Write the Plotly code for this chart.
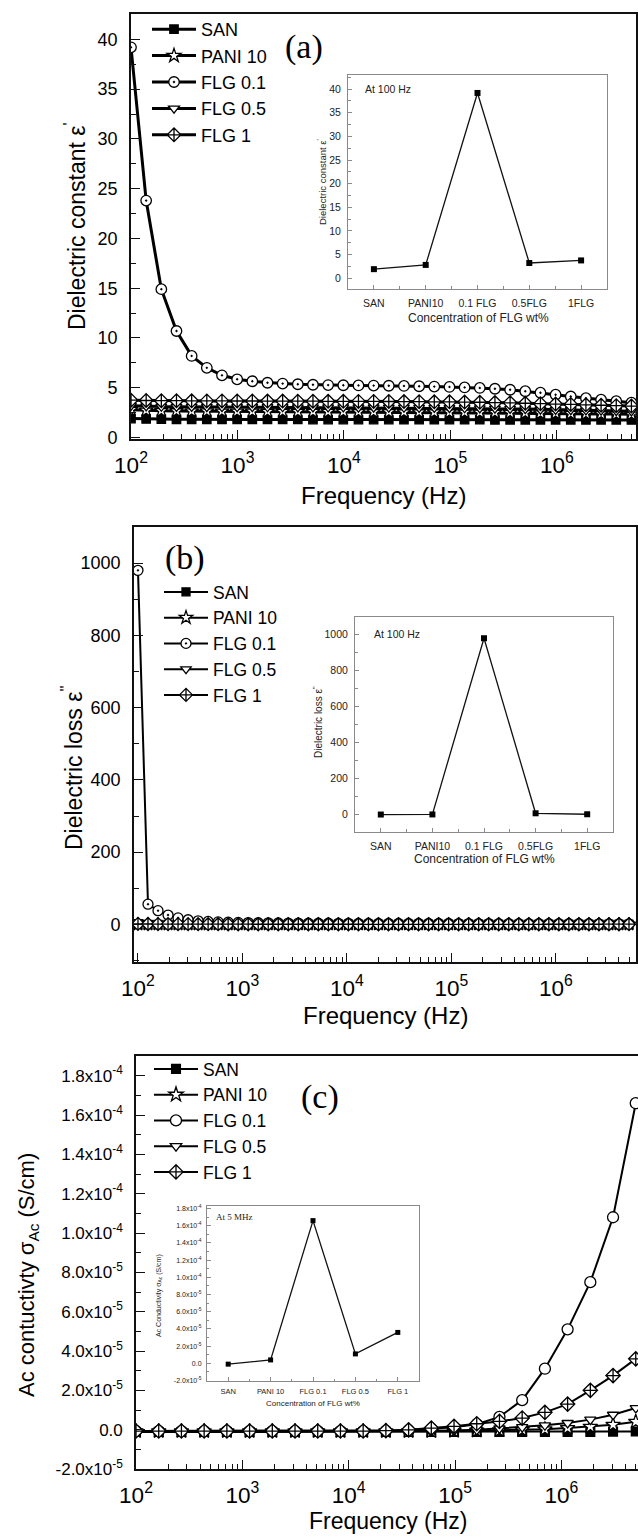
import numpy as np
import plotly.graph_objects as go

W, H = 638, 1539
SANS = "Arial, Liberation Sans, sans-serif"
SERIF = "Times New Roman, Liberation Serif, serif"

SERIES = ["SAN", "PANI 10", "FLG 0.1", "FLG 0.5", "FLG 1"]

# frequency sweep of every measurement: log-spaced from 100 Hz to 5 MHz
F_MIN, F_MAX = 100.0, 5.0e6

# ---- (a) dielectric constant eps'
eps_san = [1.90, 1.86, 1.84, 1.83, 1.83, 1.82, 1.82, 1.82, 1.81, 1.81, 1.81, 1.81,
           1.80, 1.80, 1.80, 1.80, 1.80, 1.80, 1.79, 1.79, 1.79, 1.79, 1.79, 1.79,
           1.78, 1.78, 1.78, 1.78, 1.78, 1.77, 1.77, 1.77, 1.77, 1.76]
eps_pani = [2.80, 2.72, 2.68, 2.66, 2.65, 2.64, 2.63, 2.62, 2.62, 2.61, 2.61, 2.60,
            2.60, 2.59, 2.59, 2.58, 2.58, 2.57, 2.56, 2.56, 2.55, 2.54, 2.53, 2.52,
            2.51, 2.49, 2.47, 2.45, 2.43, 2.41, 2.39, 2.37, 2.35, 2.33]
eps_flg01 = [39.2, 23.8, 14.9, 10.7, 8.2, 7.0, 6.25, 5.85, 5.65, 5.50, 5.42, 5.35,
             5.30, 5.27, 5.25, 5.23, 5.22, 5.20, 5.18, 5.15, 5.12, 5.08, 5.03, 4.98,
             4.90, 4.80, 4.65, 4.50, 4.30, 4.12, 3.95, 3.80, 3.65, 3.50]
eps_flg05 = [3.20, 3.14, 3.11, 3.10, 3.09, 3.08, 3.08, 3.07, 3.07, 3.06, 3.06, 3.05,
             3.05, 3.04, 3.04, 3.03, 3.03, 3.02, 3.01, 3.00, 2.99, 2.98, 2.96, 2.94,
             2.92, 2.89, 2.86, 2.83, 2.80, 2.77, 2.74, 2.71, 2.68, 2.65]
eps_flg1 = [3.75, 3.72, 3.70, 3.70, 3.69, 3.68, 3.68, 3.67, 3.67, 3.66, 3.66, 3.65,
            3.65, 3.64, 3.64, 3.63, 3.63, 3.62, 3.61, 3.60, 3.59, 3.58, 3.56, 3.54,
            3.51, 3.48, 3.44, 3.40, 3.36, 3.32, 3.28, 3.24, 3.20, 3.16]

# ---- (b) dielectric loss eps''
loss_san = [0.10, 0.09, 0.08, 0.08, 0.07, 0.07, 0.06, 0.06, 0.06, 0.05, 0.05, 0.05,
            0.05, 0.04, 0.04, 0.04, 0.04, 0.04, 0.04, 0.03, 0.03, 0.03, 0.03, 0.03,
            0.03, 0.03, 0.03, 0.03, 0.03, 0.03, 0.03, 0.03, 0.03, 0.03, 0.03, 0.03,
            0.03, 0.03, 0.03, 0.03, 0.03, 0.04, 0.04, 0.04, 0.04, 0.05, 0.05, 0.05,
            0.06, 0.06]
loss_pani = [0.60, 0.45, 0.38, 0.34, 0.31, 0.29, 0.27, 0.26, 0.25, 0.24, 0.23, 0.22,
             0.22, 0.21, 0.21, 0.20, 0.20, 0.19, 0.19, 0.19, 0.18, 0.18, 0.18, 0.18,
             0.17, 0.17, 0.17, 0.17, 0.17, 0.17, 0.17, 0.17, 0.17, 0.17, 0.18, 0.18,
             0.18, 0.18, 0.19, 0.19, 0.20, 0.20, 0.21, 0.22, 0.23, 0.24, 0.25, 0.26,
             0.28, 0.30]
loss_flg01 = [980.0, 56.0, 38.0, 26.0, 18.0, 13.0, 10.0, 8.2, 7.0, 6.1, 5.5, 5.0,
              4.6, 4.3, 4.0, 3.8, 3.6, 3.4, 3.3, 3.2, 3.1, 3.0, 2.9, 2.9,
              2.8, 2.8, 2.7, 2.7, 2.6, 2.6, 2.5, 2.5, 2.4, 2.4, 2.3, 2.3,
              2.2, 2.2, 2.1, 2.1, 2.0, 2.0, 1.9, 1.9, 1.8, 1.8, 1.7, 1.7,
              1.6, 1.6]
loss_flg05 = [7.0, 4.1, 2.9, 2.2, 1.8, 1.5, 1.3, 1.2, 1.1, 1.0, 0.95, 0.90,
              0.85, 0.80, 0.78, 0.75, 0.72, 0.70, 0.68, 0.66, 0.64, 0.62, 0.60, 0.59,
              0.58, 0.57, 0.56, 0.55, 0.54, 0.53, 0.52, 0.52, 0.51, 0.51, 0.50, 0.50,
              0.50, 0.50, 0.50, 0.50, 0.50, 0.51, 0.51, 0.52, 0.53, 0.54, 0.55, 0.56,
              0.58, 0.60]
loss_flg1 = [1.60, 1.20, 1.00, 0.90, 0.80, 0.75, 0.70, 0.66, 0.63, 0.60, 0.58, 0.56,
             0.54, 0.52, 0.50, 0.49, 0.48, 0.47, 0.46, 0.45, 0.44, 0.43, 0.42, 0.41,
             0.40, 0.40, 0.39, 0.39, 0.38, 0.38, 0.37, 0.37, 0.37, 0.37, 0.37, 0.37,
             0.38, 0.38, 0.39, 0.40, 0.41, 0.42, 0.44, 0.46, 0.48, 0.50, 0.53, 0.56,
             0.60, 0.65]

# ---- (c) ac conductivity (S/cm)
sig_san = [-1.2e-6, -1.2e-6, -1.2e-6, -1.2e-6, -1.2e-6, -1.2e-6, -1.2e-6, -1.2e-6,
           -1.2e-6, -1.2e-6, -1.2e-6, -1.2e-6, -1.2e-6, -1.2e-6, -1.2e-6, -1.2e-6,
           -1.2e-6, -1.2e-6, -1.2e-6, -1.1e-6, -1.1e-6, -1.0e-6, -0.9e-6]
sig_pani = [-8e-7, -8e-7, -8e-7, -8e-7, -8e-7, -8e-7, -8e-7, -8e-7,
            -8e-7, -8e-7, -8e-7, -8e-7, -8e-7, -8e-7, -7e-7, -5e-7,
            -3e-7, -1e-7, 2e-7, 8e-7, 1.5e-6, 2.5e-6, 4.0e-6]
sig_flg01 = [-7e-7, -7e-7, -7e-7, -7e-7, -7e-7, -7e-7, -7e-7, -7e-7,
             -7e-7, -7e-7, -7e-7, -6e-7, -3e-7, 4e-7, 1.2e-6, 2.8e-6,
             6.5e-6, 1.5e-5, 3.1e-5, 5.1e-5, 7.5e-5, 1.08e-4, 1.66e-4]
sig_flg05 = [-7e-7, -7e-7, -7e-7, -7e-7, -7e-7, -7e-7, -7e-7, -7e-7,
             -7e-7, -7e-7, -7e-7, -7e-7, -7e-7, -6e-7, -4e-7, -1e-7,
             6e-7, 1.3e-6, 2.2e-6, 3.4e-6, 5.1e-6, 7.6e-6, 1.1e-5]
sig_flg1 = [-7e-7, -7e-7, -7e-7, -7e-7, -7e-7, -7e-7, -7e-7, -7e-7,
            -7e-7, -7e-7, -7e-7, -5e-7, -1e-7, 8e-7, 1.7e-6, 3.0e-6,
            4.2e-6, 5.9e-6, 8.8e-6, 1.3e-5, 2.0e-5, 2.75e-5, 3.6e-5]

EPS = [eps_san, eps_pani, eps_flg01, eps_flg05, eps_flg1]
LOSS = [loss_san, loss_pani, loss_flg01, loss_flg05, loss_flg1]
SIG = [sig_san, sig_pani, sig_flg01, sig_flg05, sig_flg1]

# inset category labels
cat_a = ["SAN", "PANI10", "0.1 FLG", "0.5FLG", "1FLG"]
cat_b = ["SAN", "PANI10", "0.1 FLG", "0.5FLG", "1FLG"]
cat_c = ["SAN", "PANI 10", "FLG 0.1", "FLG 0.5", "FLG 1"]

# inset values: eps' and eps'' at 100 Hz, conductivity at 5 MHz
inset_a = [s[0] for s in EPS]
inset_b = [s[0] for s in LOSS]
inset_c = [s[-1] for s in SIG]

sig_ticks = [-2e-5, 0.0, 2e-5, 4e-5, 6e-5, 8e-5, 1e-4, 1.2e-4, 1.4e-4, 1.6e-4, 1.8e-4]
sig_ticktext = ["-2.0x10<sup>-5</sup>", "0.0", "2.0x10<sup>-5</sup>", "4.0x10<sup>-5</sup>",
                "6.0x10<sup>-5</sup>", "8.0x10<sup>-5</sup>", "1.0x10<sup>-4</sup>",
                "1.2x10<sup>-4</sup>", "1.4x10<sup>-4</sup>", "1.6x10<sup>-4</sup>",
                "1.8x10<sup>-4</sup>"]

SYMBOLS = {
    "SAN": "square",
    "PANI 10": "star",
    "FLG 0.1": "circle-dot",
    "FLG 0.5": "triangle-down",
    "FLG 1": "diamond-cross",
}
SIZES = {"SAN": 8, "PANI 10": 10, "FLG 0.1": 10, "FLG 0.5": 9, "FLG 1": 10}


def px_x(l, r):
    return [l / W, r / W]


def px_y(t, b):
    return [1 - b / H, 1 - t / H]


def ann(text, x, y, size, family=SANS, angle=0, color="black", xanchor="center"):
    return dict(text=text, x=x / W, y=1 - y / H, xref="paper", yref="paper",
                showarrow=False, font=dict(family=family, size=size, color=color),
                textangle=angle, xanchor=xanchor, yanchor="middle")


fig = go.Figure()


def add_panel(values, xaxis, yaxis, legend, lw, msize_scale, circle_symbol):
    for name, ys in zip(SERIES, values):
        freqs = np.geomspace(F_MIN, F_MAX, len(ys))
        sym = SYMBOLS[name] if name != "FLG 0.1" else circle_symbol
        fig.add_trace(go.Scatter(
            x=freqs, y=ys, name=name, mode="lines+markers",
            xaxis=xaxis, yaxis=yaxis, legend=legend,
            line=dict(color="black", width=lw),
            marker=dict(symbol=sym, size=SIZES[name] * msize_scale,
                        color="black" if name == "SAN" else "white",
                        line=dict(color="black", width=1.3)),
        ))


add_panel(EPS, "x", "y", "legend", 3.0, 1.05, "circle-dot")
add_panel(LOSS, "x2", "y2", "legend2", 2.0, 1.0, "circle-dot")
add_panel(SIG, "x3", "y3", "legend3", 2.0, 1.1, "circle")

# insets
for cats, vals, xa, ya in [(cat_a, inset_a, "x4", "y4"),
                           (cat_b, inset_b, "x5", "y5"),
                           (cat_c, inset_c, "x6", "y6")]:
    fig.add_trace(go.Scatter(
        x=list(range(len(cats))), y=vals, mode="lines+markers", showlegend=False,
        xaxis=xa, yaxis=ya, line=dict(color="#111", width=1.3),
        marker=dict(symbol="square", size=6 if xa != "x6" else 5, color="black"),
    ))

main_line = dict(showline=True, linecolor="#111", linewidth=1.6, mirror=True,
                 ticks="inside", tickcolor="#111", tickwidth=1.4, ticklen=9,
                 showgrid=False, zeroline=False, automargin=False)
log_x = dict(type="log", dtick=1, exponentformat="power",
             tickfont=dict(family=SANS, size=18, color="black"),
             minor=dict(ticks="inside", ticklen=5, tickwidth=1.2, tickcolor="#111",
                        dtick="D1", showgrid=False),
             ticklabelstandoff=6, **main_line)

inset_line = dict(showline=True, linecolor="#8a8a8a", linewidth=1.1, mirror=True,
                  ticks="inside", tickcolor="#8a8a8a", tickwidth=1, ticklen=4,
                  showgrid=False, zeroline=False, automargin=False)

A = (131, 14, 636, 439)
B = (134, 527, 636, 962)
C = (136, 1056, 638, 1469)
IA = (348, 75, 607, 289)
IB = (355, 617, 613, 832)
IC = (207, 1206, 419, 1381)

legend_common = dict(xanchor="left", yanchor="top", bgcolor="rgba(0,0,0,0)",
                     itemwidth=44, tracegroupgap=0)

fig.update_layout(
    width=W, height=H, margin=dict(l=0, r=0, t=0, b=0, pad=0, autoexpand=False),
    paper_bgcolor="white", plot_bgcolor="white",
    font=dict(family=SANS, color="black"),
    xaxis=dict(domain=px_x(A[0], A[2]), range=[2, 6.742], anchor="y", **log_x),
    yaxis=dict(domain=px_y(A[1], A[3]), range=[-0.15, 42.55], anchor="x",
               dtick=5, tick0=0, tickfont=dict(family=SANS, size=18, color="black"),
               minor=dict(ticks="inside", ticklen=5, tickwidth=1.2, tickcolor="#111",
                          dtick=2.5, tick0=0, showgrid=False),
               ticklabelstandoff=8, **main_line),
    xaxis2=dict(domain=px_x(B[0], B[2]), range=[1.962, 6.766], anchor="y2", **log_x),
    yaxis2=dict(domain=px_y(B[1], B[3]), range=[-104, 1100], anchor="x2",
                dtick=200, tick0=0, tickfont=dict(family=SANS, size=18, color="black"),
                minor=dict(ticks="inside", ticklen=5, tickwidth=1.2, tickcolor="#111",
                           dtick=100, tick0=0, showgrid=False),
                ticklabelstandoff=8, **main_line),
    xaxis3=dict(domain=px_x(C[0], C[2]), range=[2, 6.72], anchor="y3", **log_x),
    yaxis3=dict(domain=px_y(C[1], C[3]), range=[-2e-5, 1.9e-4], anchor="x3",
                tickvals=sig_ticks, ticktext=sig_ticktext,
                tickfont=dict(family=SANS, size=17, color="black"),
                minor=dict(ticks="inside", ticklen=5, tickwidth=1.2, tickcolor="#111",
                           dtick=1e-5, tick0=0, showgrid=False),
                ticklabelstandoff=8, automargin=False,
                showline=True, linecolor="#111", linewidth=1.6, mirror=False,
                ticks="inside", tickcolor="#111", tickwidth=1.4, ticklen=9,
                showgrid=False, zeroline=False),
    xaxis4=dict(domain=px_x(IA[0], IA[2]), range=[-0.5, 4.5], anchor="y4",
                tickvals=list(range(5)), ticktext=cat_a,
                tickfont=dict(family=SANS, size=10.5, color="#222"),
                minor=dict(ticks="inside", ticklen=2.5, tickcolor="#8a8a8a", dtick=0.5, tick0=0),
                ticklabelstandoff=4, **inset_line),
    yaxis4=dict(domain=px_y(IA[1], IA[3]), range=[-2.3, 43], anchor="x4",
                dtick=5, tick0=0, tickfont=dict(family=SANS, size=10.5, color="#222"),
                minor=dict(ticks="inside", ticklen=2.5, tickcolor="#8a8a8a", dtick=2.5, tick0=0),
                ticklabelstandoff=4, **inset_line),
    xaxis5=dict(domain=px_x(IB[0], IB[2]), range=[-0.5, 4.5], anchor="y5",
                tickvals=list(range(5)), ticktext=cat_b,
                tickfont=dict(family=SANS, size=10.5, color="#222"),
                minor=dict(ticks="inside", ticklen=2.5, tickcolor="#8a8a8a", dtick=0.5, tick0=0),
                ticklabelstandoff=4, **inset_line),
    yaxis5=dict(domain=px_y(IB[1], IB[3]), range=[-97, 1098], anchor="x5",
                dtick=200, tick0=0, tickfont=dict(family=SANS, size=10.5, color="#222"),
                minor=dict(ticks="inside", ticklen=2.5, tickcolor="#8a8a8a", dtick=100, tick0=0),
                ticklabelstandoff=4, **inset_line),
    xaxis6=dict(domain=px_x(IC[0], IC[2]), range=[-0.5, 4.5], anchor="y6",
                tickvals=list(range(5)), ticktext=cat_c,
                tickfont=dict(family=SANS, size=7.5, color="#222"),
                minor=dict(ticks="inside", ticklen=2, tickcolor="#8a8a8a", dtick=0.5, tick0=0),
                ticklabelstandoff=3, **inset_line),
    yaxis6=dict(domain=px_y(IC[1], IC[3]), range=[-2.05e-5, 1.83e-4], anchor="x6",
                tickvals=sig_ticks, ticktext=sig_ticktext,
                tickfont=dict(family=SANS, size=7, color="#222"),
                minor=dict(ticks="inside", ticklen=2, tickcolor="#8a8a8a", dtick=1e-5, tick0=0),
                ticklabelstandoff=3, **inset_line),
    legend=dict(x=147 / W, y=1 - 11 / H,
                font=dict(family=SANS, size=18, color="black"), **legend_common),
    legend2=dict(x=159 / W, y=1 - 574 / H,
                 font=dict(family=SANS, size=17.5, color="black"), **legend_common),
    legend3=dict(x=149 / W, y=1 - 1051 / H,
                 font=dict(family=SANS, size=17.5, color="black"), **legend_common),
    annotations=[
        # panel tags
        ann("(a)", 304, 47, 34, SERIF),
        ann("(b)", 185, 558, 34, SERIF),
        ann("(c)", 320, 1097, 34, SERIF),
        # main axis titles
        ann("Dielectric constant ε<sup>'</sup>", 75, 226, 23, angle=-90),
        ann("Frequency (Hz)", 383, 495, 24),
        ann("Dielectric loss ε<sup>''</sup>", 72, 768, 23, angle=-90),
        ann("Frequency (Hz)", 385, 1015, 24),
        ann("Ac contuctivty σ<sub>Ac</sub> (S/cm)", 28, 1275, 22, angle=-90),
        ann("Frequency (Hz)", 388, 1521, 23),
        # inset texts
        ann("At 100 Hz", 363, 89, 10.5, color="#222", xanchor="left"),
        ann("Dielectric constant ε<sup>'</sup>", 322, 182, 9.5, angle=-90, color="#222"),
        ann("Concentration of FLG wt%", 478, 318, 12, color="#222"),
        ann("At 100 Hz", 372, 634, 10.5, color="#222", xanchor="left"),
        ann("Dielectric loss ε<sup>''</sup>", 318, 722, 10, angle=-90, color="#222"),
        ann("Concentration of FLG wt%", 484, 859, 12, color="#222"),
        ann("At 5 MHz", 214, 1217, 9, SERIF, color="#222", xanchor="left"),
        ann("Ac Conductivity σ<sub>Ac</sub> (S/cm)", 159, 1296, 7, angle=-90, color="#222"),
        ann("Concentration of FLG wt%", 313, 1403, 8, color="#222"),
    ],
)

fig.write_html("out.html")
